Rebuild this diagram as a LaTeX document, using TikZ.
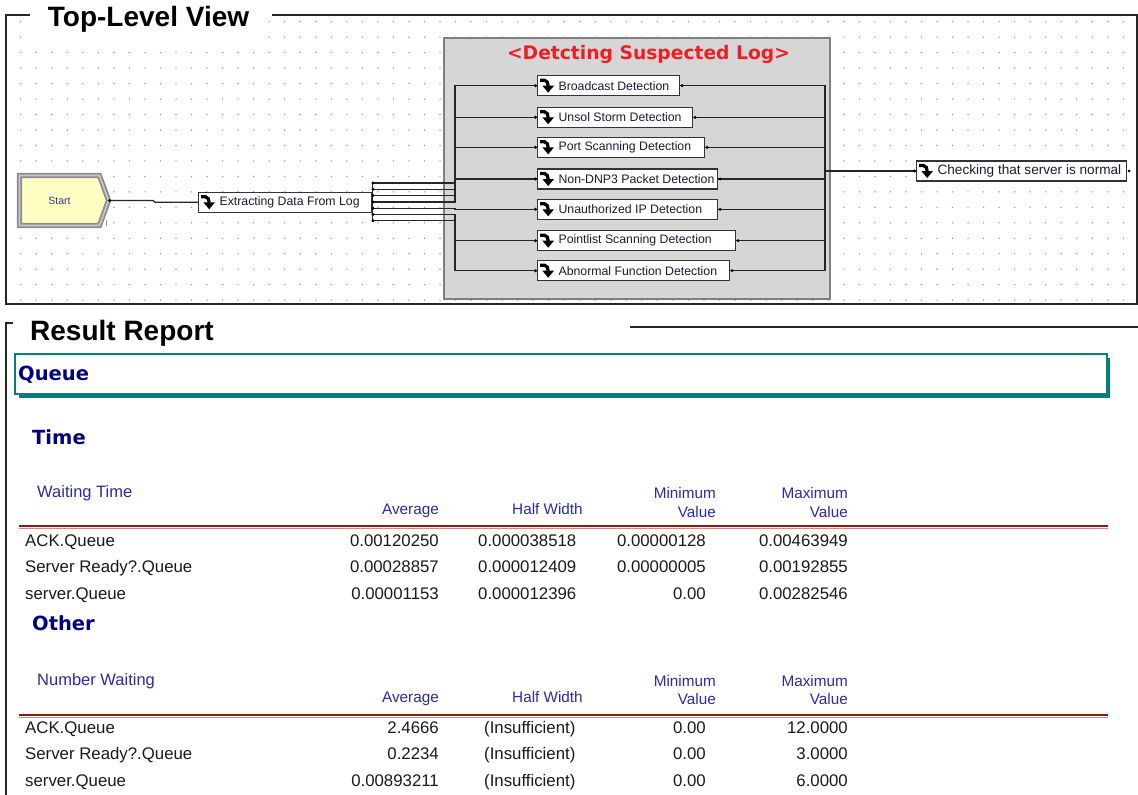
\documentclass[tikz,border=0pt]{standalone}
\usepackage{fontspec}
\setmainfont{Liberation Sans}
\newfontfamily\verdfont{DejaVu Sans}
\usetikzlibrary{shapes.symbols}

\definecolor{navyhd}{HTML}{000080}
\definecolor{colhd}{HTML}{2B2BA0}
\definecolor{reportteal}{HTML}{008080}
\definecolor{rulered}{HTML}{8B1A1A}
\definecolor{rulepink}{HTML}{D08A8A}
\definecolor{boxgray}{HTML}{D6D6D6}
\definecolor{boxedge}{HTML}{7F7F7F}
\definecolor{dotgray}{HTML}{999999}
\definecolor{startfill}{HTML}{FFFFC4}
\definecolor{startedge}{HTML}{8C8C8C}
\definecolor{startinner}{HTML}{C8C8C8}
\definecolor{startlabel}{HTML}{333399}
\definecolor{flagviolet}{HTML}{5B4FCF}
\definecolor{labelred}{HTML}{F01E23}
\definecolor{boxtext}{HTML}{1A1A33}

\tikzset{
  frame/.style={draw=black!85, line width=1.1pt},
  fbox/.style={draw=black!80, line width=1.1pt, fill=white, inner sep=0pt,
    minimum height=20pt, font=\fontsize{12.3}{14}\selectfont, text=boxtext},
  conn/.style={draw=black!85, line width=1.3pt},
  paneltitle/.style={font=\bfseries\fontsize{28}{30}\selectfont, text=black, inner sep=0pt},
  sechead/.style={font=\verdfont\bfseries\fontsize{19.5}{21}\selectfont, text=navyhd, inner sep=0pt},
  tabtitle/.style={font=\fontsize{16.5}{18}\selectfont, text=colhd, inner sep=0pt},
  colhead/.style={font=\fontsize{15.3}{17}\selectfont, text=colhd, inner sep=0pt},
  cell/.style={font=\fontsize{16.8}{19}\selectfont, text=black!90, inner sep=0pt},
  flowicon/.pic={
    \draw[line width=3.2pt] (-6,-5.5) -- (-1.5,-5.5) to[out=0,in=90] (2.2,0.5);
    \fill (-3.6,0) -- (8,0) -- (2.2,7) -- cycle;
  }
}

% process box: name, left x, centre y, width, label
\newcommand\fbnode[5]{%
  \node[fbox, anchor=west] (#1) at (#2,#3) {\makebox[#4pt][l]{\hspace{21pt}#5}};
  \pic at ([xshift=9pt]#1.west) {flowicon};
}

\begin{document}
\begin{tikzpicture}[x=1pt,y=-1pt]
\useasboundingbox (0,0) rectangle (1138,795);

% ---------- model canvas ----------
\foreach \i in {0,...,71}{
  \foreach \j in {0,...,18}{
    \fill[dotgray] (20.7+15.53*\i, 21.7+15.47*\j) circle (0.8pt);
  }
}

\draw[frame] (34,15) -- (6,15) -- (6,304) -- (1137,304) -- (1137,15) -- (272,15);
\node[paneltitle, fill=white, inner xsep=18pt, inner ysep=5pt, anchor=base] (toptitle) at (148.5,26.7) {Top-Level View};

% submodel area
\node[draw=boxedge, line width=1.8pt, fill=boxgray, anchor=north west,
      minimum width=386pt, minimum height=261pt, inner sep=0pt] (group) at (443,37) {};
\node[font=\verdfont\bfseries\fontsize{18.7}{20}\selectfont, text=labelred, inner sep=0pt]
  (grouptitle) at (648.5,54) {<Detcting Suspected Log>};

% create module
\node[signal, signal to=east, signal pointer angle=140, minimum width=89pt, minimum height=50pt,
      fill=startfill, draw=startedge, line width=1.8pt, double=startinner, double distance=1.6pt,
      inner sep=0pt, font=\fontsize{10.5}{12}\selectfont, text=startlabel] (start) at (59.5,200.5) {Start};
\node[text=flagviolet, font=\fontsize{8}{8}\selectfont, inner sep=0pt] (startflag) at (106.5,224) {I};

% process modules
\fbnode{extract}{198}{202.3}{173}{Extracting Data From Log}
\fbnode{d1}{537}{85.7}{142}{Broadcast Detection}
\fbnode{d2}{537}{117.3}{155}{Unsol Storm Detection}
\fbnode{d3}{537}{147.3}{167}{Port Scanning Detection}
\fbnode{d4}{537}{179}{180}{Non-DNP3 Packet Detection}
\fbnode{d5}{537}{209.3}{180}{Unauthorized IP Detection}
\fbnode{d6}{537}{240.7}{198}{Pointlist Scanning Detection}
\fbnode{d7}{537}{270.7}{192}{Abnormal Function Detection}
\fbnode{check}{916}{171}{210}{\fontsize{13.6}{15}\selectfont Checking that server is normal}

% connections
\coordinate (bend1) at (153,200.5);
\coordinate (bend2) at (155,202.3);
\draw[conn] (start.east) -- (bend1) -- (bend2) -- (extract.west);
\fill (start.east) circle (1.6pt);

\draw[conn] (372.5,183) -- (372.5,220.8);
\foreach \i/\yy in {1/183,2/189.3,3/195.6,4/201.9,5/208.2,6/214.5,7/220.8}{
  \coordinate (xp\i) at (373,\yy);
  \draw[conn] (xp\i) -- (455,\yy) |- (d\i.west);
  \fill (xp\i) circle (1.6pt);
  \fill ([xshift=-1.5pt]d\i.west) circle (1.6pt);
  \draw[conn] (d\i.east) -| (825,171) -- (check.west);
  \fill ([xshift=2pt]d\i.east) circle (1.6pt);
}
\fill ([xshift=-1.5pt]check.west) circle (1.6pt);
\fill ([xshift=2pt]check.east) circle (1.6pt);

% ---------- report ----------
\draw[frame] (13,323) -- (6,323) -- (6,795);
\draw[frame] (630,327) -- (1138,327);
\node[paneltitle, anchor=base west] (reporttitle) at (30,340) {Result Report};

\fill[reportteal] (19,358) rectangle (1110,398);
\node[draw=reportteal, line width=2pt, fill=white, anchor=north west,
      minimum width=1092pt, minimum height=40pt, inner sep=0pt] (queuebox) at (14,353) {};
\node[sechead, anchor=base west] (queuehead) at (18,380) {Queue};
\node[sechead, anchor=base west] (timehead) at (32,444) {Time};
\node[sechead, anchor=base west] (otherhead) at (32,630) {Other};

% waiting time table
\node[tabtitle, anchor=base west] (wthead) at (37,497.5) {Waiting Time};
\node[colhead, anchor=base east] (wtavg) at (439,514.5) {Average};
\node[colhead, anchor=base west] (wthw) at (512,514.5) {Half Width};
\node[colhead, anchor=base east] (wtmin) at (716,498.5) {Minimum};
\node[colhead, anchor=base east] (wtminv) at (716,517.5) {Value};
\node[colhead, anchor=base east] (wtmax) at (848,498.5) {Maximum};
\node[colhead, anchor=base east] (wtmaxv) at (848,517.5) {Value};
\draw[rulepink, line width=1pt] (19,528) -- (1108,528);
\draw[rulered, line width=2.2pt] (19,526) -- (1108,526);

\foreach \r/\yy/\nm/\av/\hw/\mn/\mx in {
  1/546/ACK.Queue/0.00120250/0.000038518/0.00000128/0.00463949,
  2/572/Server Ready?.Queue/0.00028857/0.000012409/0.00000005/0.00192855,
  3/599/server.Queue/0.00001153/0.000012396/0.00/0.00282546}{
  \node[cell, anchor=base west] (wtn\r) at (25,\yy) {\nm};
  \node[cell, anchor=base east] (wta\r) at (439,\yy) {\av};
  \node[cell, anchor=base west] (wth\r) at (478,\yy) {\hw};
  \node[cell, anchor=base east] (wti\r) at (706,\yy) {\mn};
  \node[cell, anchor=base east] (wtx\r) at (848,\yy) {\mx};
}

% number waiting table
\node[tabtitle, anchor=base west] (nwhead) at (37,685.5) {Number Waiting};
\node[colhead, anchor=base east] (nwavg) at (439,702.5) {Average};
\node[colhead, anchor=base west] (nwhw) at (512,702.5) {Half Width};
\node[colhead, anchor=base east] (nwmin) at (716,686.5) {Minimum};
\node[colhead, anchor=base east] (nwminv) at (716,704.5) {Value};
\node[colhead, anchor=base east] (nwmax) at (848,686.5) {Maximum};
\node[colhead, anchor=base east] (nwmaxv) at (848,704.5) {Value};
\draw[rulepink, line width=1pt] (19,717) -- (1108,717);
\draw[rulered, line width=2.2pt] (19,715) -- (1108,715);

\foreach \r/\yy/\nm/\av/\mx in {
  1/733/ACK.Queue/2.4666/12.0000,
  2/759/Server Ready?.Queue/0.2234/3.0000,
  3/786/server.Queue/0.00893211/6.0000}{
  \node[cell, anchor=base west] (nwn\r) at (25,\yy) {\nm};
  \node[cell, anchor=base east] (nwa\r) at (439,\yy) {\av};
  \node[cell, anchor=base west] (nwh\r) at (484,\yy) {(Insufficient)};
  \node[cell, anchor=base east] (nwi\r) at (706,\yy) {0.00};
  \node[cell, anchor=base east] (nwx\r) at (848,\yy) {\mx};
}
\end{tikzpicture}
\end{document}
